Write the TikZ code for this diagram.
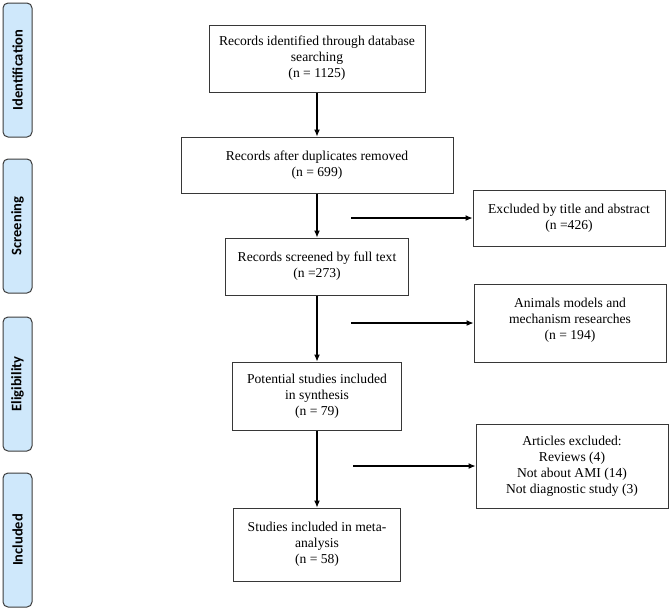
\documentclass[tikz,border=0pt]{standalone}
\usepackage{fontspec}
\setmainfont{Liberation Serif}
\newfontfamily\barfont{Carlito}
\usetikzlibrary{arrows.meta}
\definecolor{bar_blue}{RGB}{207, 232, 251}
\definecolor{bar_edge}{RGB}{60, 60, 60}
\definecolor{box_edge}{RGB}{55, 55, 55}
\tikzstyle{bx}=[rectangle,draw=box_edge,line width=1pt,fill=white,align=center,
  inner sep=2pt,font=\fontsize{13.6}{16}\selectfont]
\tikzstyle{sb}=[rectangle,rounded corners=5pt,fill=bar_blue,draw=bar_edge,
  line width=1pt,minimum width=29pt,minimum height=134pt,
  font=\barfont\bfseries\fontsize{14.5}{16}\selectfont]
\tikzstyle{arr}=[-{Latex[length=7pt,width=6pt]},line width=1.1pt,black]
\tikzstyle{none}=[]

\begin{document}
\begin{tikzpicture}[x=1pt,y=-1pt]
            \useasboundingbox (0, 0) rectangle (669, 611);
            \node [style=sb] (0) at (17.5, 70) {\rotatebox{90}{Identification}};
            \node [style=sb] (1) at (17.5, 226) {\rotatebox{90}{Screening}};
            \node [style=sb] (2) at (17.5, 384) {\rotatebox{90}{Eligibility}};
            \node [style=sb] (3) at (17.5, 540) {\rotatebox{90}{Included}};
            \node [style=bx, minimum width=216pt, minimum height=67pt] (10) at (317, 58.5)
              {Records identified through database\\searching\\(n = 1125)};
            \node [style=bx, minimum width=272pt, minimum height=56pt] (11) at (317, 165)
              {Records after duplicates removed\\(n = 699)};
            \node [style=bx, minimum width=183pt, minimum height=57pt] (12) at (317, 266.5)
              {Records screened by full text\\(n =273)};
            \node [style=bx, minimum width=169pt, minimum height=68pt] (13) at (317, 396)
              {Potential studies included\\in synthesis\\(n = 79)};
            \node [style=bx, minimum width=167pt, minimum height=73pt] (14) at (317, 544.5)
              {Studies included in meta-\\analysis\\(n = 58)};
            \node [style=bx, minimum width=192pt, minimum height=56pt] (20) at (569, 218)
              {Excluded by title and abstract\\(n =426)};
            \node [style=bx, minimum width=192pt, minimum height=78pt] (21) at (570, 323)
              {Animals models and\\mechanism researches\\(n = 194)\\[-8pt]};
            \node [style=bx, minimum width=192pt, minimum height=84pt] (22) at (572, 466)
              {Articles excluded:\\Reviews (4)\\Not about AMI (14)\\Not diagnostic study (3)};
            \node [style=none] (30) at (351, 218) {};
            \node [style=none] (31) at (351, 323) {};
            \node [style=none] (32) at (353, 466) {};
            \draw [style=arr] (10) to (11);
            \draw [style=arr] (11) to (12);
            \draw [style=arr] (12) to (13);
            \draw [style=arr] (13) to (14);
            \draw [style=arr] (30.center) to (20);
            \draw [style=arr] (31.center) to (21);
            \draw [style=arr] (32.center) to (22);
    \end{tikzpicture}
\end{document}
